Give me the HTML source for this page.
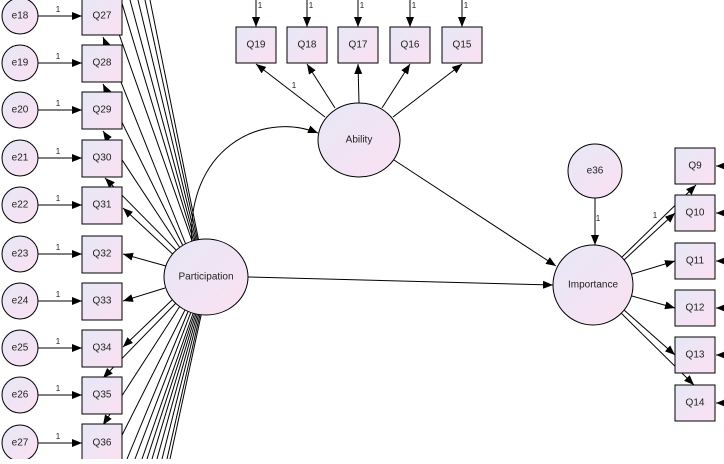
<!DOCTYPE html>
<html><head><meta charset="utf-8"><style>
html,body{margin:0;padding:0;background:#fff}
svg text{font-family:"Liberation Sans",Arial,sans-serif;fill:#222}
</style></head><body>
<svg width="724" height="459" viewBox="0 0 724 459" xmlns="http://www.w3.org/2000/svg">
<defs>
<linearGradient id="g" x1="0" y1="0" x2="1" y2="1"><stop offset="0" stop-color="#e6e8f6"/><stop offset="1" stop-color="#fbe0f2"/></linearGradient>
<marker id="a" markerWidth="10" markerHeight="8" refX="10" refY="4" orient="auto" markerUnits="userSpaceOnUse"><path d="M0,0 L10,4 L0,8 z" fill="#000"/></marker>
</defs>
<g stroke="#000" stroke-width="1" fill="none">
<!-- fan lines up -->
<line x1="196" y1="252" x2="107" y2="0"/><line x1="197" y1="252" x2="121" y2="0"/><line x1="198" y1="252" x2="130" y2="0"/><line x1="199" y1="252" x2="138" y2="0"/><line x1="200" y1="252" x2="145" y2="0"/><line x1="201" y1="252" x2="150" y2="0"/>
<!-- fan lines down -->
<line x1="190" y1="300" x2="110" y2="459"/><line x1="192" y1="302" x2="127" y2="459"/><line x1="194" y1="304" x2="135" y2="459"/><line x1="196" y1="305" x2="142" y2="459"/><line x1="197" y1="306" x2="147" y2="459"/><line x1="198" y1="307" x2="152" y2="459"/><line x1="199" y1="308" x2="157" y2="459"/><line x1="200" y1="309" x2="162" y2="459"/><line x1="201" y1="310" x2="167" y2="459"/><line x1="202" y1="311" x2="170" y2="459"/>
<!-- Participation to Q items -->
<g marker-end="url(#a)">
<line x1="188" y1="250" x2="103" y2="37"/><line x1="186" y1="252" x2="103" y2="84"/><line x1="184" y1="254" x2="103" y2="131"/><line x1="182" y1="256" x2="105" y2="178"/><line x1="178" y1="259" x2="123" y2="208"/>
<line x1="166" y1="266" x2="123" y2="254"/><line x1="165" y1="288" x2="123" y2="301"/><line x1="172" y1="300" x2="123" y2="347"/><line x1="176" y1="303" x2="103" y2="378"/><line x1="180" y1="306" x2="103" y2="425"/>
<!-- e to Q -->
<line x1="38" y1="16" x2="82" y2="16"/><line x1="38" y1="63" x2="82" y2="63"/><line x1="38" y1="110" x2="82" y2="110"/><line x1="38" y1="158" x2="82" y2="158"/><line x1="38" y1="205" x2="82" y2="205"/><line x1="38" y1="254" x2="82" y2="254"/><line x1="38" y1="301" x2="82" y2="301"/><line x1="38" y1="348" x2="82" y2="348"/><line x1="38" y1="395" x2="82" y2="395"/><line x1="38" y1="443" x2="82" y2="443"/>
<!-- top errors -->
<line x1="256" y1="0" x2="256" y2="27"/><line x1="307" y1="0" x2="307" y2="27"/><line x1="358" y1="0" x2="358" y2="27"/><line x1="410" y1="0" x2="410" y2="27"/><line x1="462" y1="0" x2="462" y2="27"/>
<!-- Ability to Q -->
<line x1="325" y1="117" x2="256" y2="64"/><line x1="335" y1="108" x2="307" y2="64"/><line x1="359" y1="103" x2="358" y2="64"/><line x1="382" y1="108" x2="410" y2="64"/><line x1="393" y1="117" x2="462" y2="64"/>
<!-- paths -->
<path d="M192,246 C185,150 260,110 318,133"/>
<line x1="394" y1="160" x2="556" y2="266"/>
<line x1="248" y1="277" x2="553" y2="285"/>
<line x1="595" y1="198" x2="595" y2="245"/>
<!-- Importance to Q -->
<line x1="622" y1="257" x2="696" y2="185"/><line x1="624" y1="260" x2="675" y2="213"/><line x1="632" y1="274" x2="675" y2="261"/><line x1="632" y1="296" x2="675" y2="308"/><line x1="624" y1="310" x2="675" y2="355"/><line x1="621" y1="313" x2="694" y2="385"/>
<!-- right small arrows -->
<line x1="724" y1="166" x2="716" y2="166"/><line x1="724" y1="213" x2="716" y2="213"/><line x1="724" y1="261" x2="716" y2="261"/><line x1="724" y1="308" x2="716" y2="308"/><line x1="724" y1="355" x2="716" y2="355"/><line x1="724" y1="403" x2="716" y2="403"/>
</g>
</g>
<g stroke="#000" stroke-width="1" fill="url(#g)">
<circle cx="20" cy="16" r="18"/><circle cx="20" cy="63" r="18"/><circle cx="20" cy="110" r="18"/><circle cx="20" cy="158" r="18"/><circle cx="20" cy="205" r="18"/><circle cx="20" cy="254" r="18"/><circle cx="20" cy="301" r="18"/><circle cx="20" cy="348" r="18"/><circle cx="20" cy="395" r="18"/><circle cx="20" cy="443" r="18"/>
<rect x="82" y="-2" width="40" height="37"/><rect x="82" y="45" width="40" height="37"/><rect x="82" y="92" width="40" height="37"/><rect x="82" y="140" width="40" height="37"/><rect x="82" y="187" width="40" height="37"/><rect x="82" y="236" width="40" height="37"/><rect x="82" y="283" width="40" height="37"/><rect x="82" y="330" width="40" height="37"/><rect x="82" y="377" width="40" height="37"/><rect x="82" y="424" width="40" height="37"/>
<rect x="236" y="27" width="40" height="36"/><rect x="287" y="27" width="40" height="36"/><rect x="338" y="27" width="40" height="36"/><rect x="390" y="27" width="40" height="36"/><rect x="442" y="27" width="40" height="36"/>
<rect x="675" y="148" width="40" height="36"/><rect x="675" y="195" width="40" height="36"/><rect x="675" y="243" width="40" height="36"/><rect x="675" y="290" width="40" height="36"/><rect x="675" y="337" width="40" height="36"/><rect x="675" y="385" width="40" height="36"/>
<ellipse cx="206" cy="277" rx="42" ry="38"/>
<ellipse cx="359" cy="140" rx="41" ry="37"/>
<ellipse cx="593" cy="285" rx="40" ry="40"/>
<circle cx="595" cy="171" r="27"/>
</g>
<g font-size="10" text-anchor="middle" dominant-baseline="central">
<text x="20" y="16">e18</text><text x="20" y="63">e19</text><text x="20" y="110">e20</text><text x="20" y="158">e21</text><text x="20" y="205">e22</text><text x="20" y="254">e23</text><text x="20" y="301">e24</text><text x="20" y="348">e25</text><text x="20" y="395">e26</text><text x="20" y="443">e27</text>
<text x="102" y="16">Q27</text><text x="102" y="63">Q28</text><text x="102" y="110">Q29</text><text x="102" y="158">Q30</text><text x="102" y="205">Q31</text><text x="102" y="254">Q32</text><text x="102" y="301">Q33</text><text x="102" y="348">Q34</text><text x="102" y="395">Q35</text><text x="102" y="443">Q36</text>
<text x="256" y="45">Q19</text><text x="307" y="45">Q18</text><text x="358" y="45">Q17</text><text x="410" y="45">Q16</text><text x="462" y="45">Q15</text>
<text x="695" y="166">Q9</text><text x="695" y="213">Q10</text><text x="695" y="261">Q11</text><text x="695" y="308">Q12</text><text x="695" y="355">Q13</text><text x="695" y="403">Q14</text>
<text x="206" y="277">Participation</text><text x="359" y="140">Ability</text><text x="593" y="285">Importance</text><text x="595" y="171">e36</text>
</g>
<g font-size="8" text-anchor="middle">
<text x="58" y="12">1</text><text x="58" y="59">1</text><text x="58" y="106">1</text><text x="58" y="154">1</text><text x="58" y="201">1</text><text x="58" y="250">1</text><text x="58" y="297">1</text><text x="58" y="344">1</text><text x="58" y="391">1</text><text x="58" y="439">1</text>
<text x="260" y="8">1</text><text x="311" y="8">1</text><text x="362" y="8">1</text><text x="414" y="8">1</text><text x="466" y="8">1</text>
<text x="294" y="88">1</text><text x="598" y="221">1</text><text x="655" y="218">1</text>
</g>
</svg>
</body></html>
